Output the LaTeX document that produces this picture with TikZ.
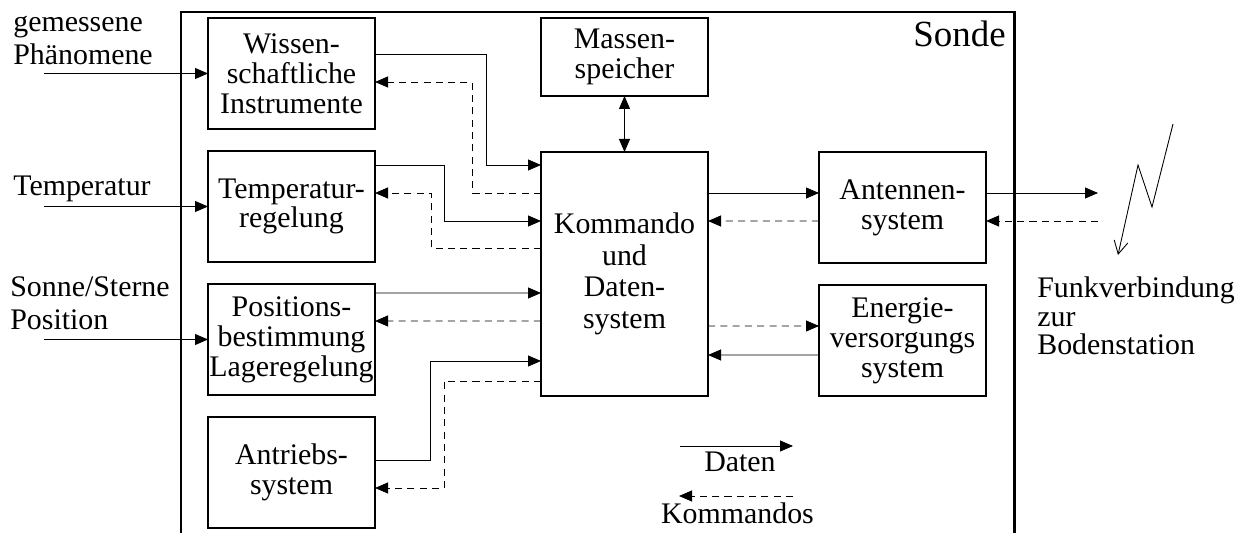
\documentclass[tikz,border=0pt]{standalone}
\usepackage{fontspec}
\setmainfont{Liberation Serif}
\usetikzlibrary{arrows.meta,positioning}

\begin{document}
\begin{tikzpicture}[
  node distance=0.44cm,
  font=\fontsize{17}{17}\selectfont,
  box/.style={draw, line width=0.6pt, minimum width=3.34cm,
              minimum height=2.22cm, inner sep=0pt, outer sep=0pt,
              align=center, font=\fontsize{17}{17}\selectfont},
  lab/.style={inner sep=0pt, align=left, font=\fontsize{17}{18.8}\selectfont},
  dat/.style={draw, line width=0.5pt, ->, >={Triangle[length=2.6mm,width=2.2mm]}},
  kmd/.style={dat, dash pattern=on 4pt off 3pt}
]
\useasboundingbox (0,0) rectangle (24.82,-10.66);

% Sonde
\draw[line width=1.7pt] (3.62,-10.66) |- (20.28,-0.24) -- (20.28,-10.66);
\node[anchor=base east, inner sep=0pt, font=\fontsize{21}{25}\selectfont]
  (sonde) at (20.12,-0.94) {Sonde};

\node[box] (wiss) at (5.83,-1.47) {Wissen-\\schaftliche\\Instrumente};
\node[box, below=of wiss] (temp) {Temperatur-\\regelung};
\node[box, below=of temp] (pos) {Positions-\\bestimmung\\Lageregelung};
\node[box, below=of pos] (antr) {Antriebs-\\system};
\node[box, minimum height=1.56cm, right=3.32cm of wiss.north east,
  anchor=north west] (mass) {Massen-\\speicher};
\node[box, minimum height=4.88cm, below=1.12cm of mass,
  font=\fontsize{17}{18}\selectfont] (komm) {Kommando\\und\\Daten-\\system};
\node[box, right=2.22cm of komm.north east, anchor=north west] (ant)
  {Antennen-\\system};
\node[box, below=of ant] (ener) {Energie-\\versorgungs\\system};

% aussen
\node[lab, anchor=base west] (gem) at (0.26,-1.30) {gemessene\\Phänomene};
\node[lab, anchor=base west] (tmp) at (0.26,-3.92) {Temperatur};
\node[lab, anchor=base west] (sun) at (0.2,-6.60) {Sonne/Sterne\\Position};
\node[lab, anchor=base west, font=\fontsize{17}{16.5}\selectfont] (funk)
  at (20.74,-7.10) {Funkverbindung\\zur\\Bodenstation};

\coordinate (inW) at (0.88,-1.47);
\coordinate (inT) at (0.88,-4.13);
\coordinate (inP) at (0.88,-6.79);
\coordinate (outA) at (21.96,-3.86);
\coordinate (inA) at (21.96,-4.42);

\draw[dat] (inW) -- (wiss.west);
\draw[dat] (inT) -- (temp.west);
\draw[dat] (inP) -- (pos.west);

\draw[dat] ([yshift=0.39cm]wiss.east) -- ++(2.22,0) |- ([yshift=2.18cm]komm.west);
\draw[kmd] ([yshift=1.62cm]komm.west) -- ++(-1.38,0) |- ([yshift=-0.17cm]wiss.east);
\draw[dat] ([yshift=0.83cm]temp.east) -- ++(1.38,0) |- ([yshift=1.06cm]komm.west);
\draw[kmd] ([yshift=0.52cm]komm.west) -- ++(-2.2,0) |- ([yshift=0.27cm]temp.east);
\draw[dat] ([yshift=0.93cm]pos.east) -- ([yshift=-0.38cm]komm.west);
\draw[kmd] ([yshift=-0.94cm]komm.west) -- ([yshift=0.37cm]pos.east);
\draw[dat] ([yshift=0.25cm]antr.east) -- ++(1.1,0) |- ([yshift=-1.74cm]komm.west);
\draw[kmd] ([yshift=-2.14cm]komm.west) -- ++(-1.94,0) |- ([yshift=-0.31cm]antr.east);

\draw[dat, <->] (mass.south) -- (komm.north);

\draw[dat] ([yshift=1.62cm]komm.east) -- ([yshift=0.29cm]ant.west);
\draw[kmd] ([yshift=-0.27cm]ant.west) -- ([yshift=1.06cm]komm.east);
\draw[kmd] ([yshift=-1.04cm]komm.east) -- ([yshift=0.29cm]ener.west);
\draw[dat] ([yshift=-0.29cm]ener.west) -- ([yshift=-1.62cm]komm.east);

\draw[dat] ([yshift=0.29cm]ant.east) -- (outA);
\draw[kmd] (inA) -- ([yshift=-0.27cm]ant.east);

% Funk
\coordinate (z1) at (23.46,-2.48);
\coordinate (z2) at (23.04,-4.14);
\coordinate (z3) at (22.76,-3.30);
\coordinate (z4) at (22.36,-5.10);
\draw[line width=0.5pt, -{Straight Barb[length=2.6mm,width=2.8mm]}]
  (z1) -- (z2) -- (z3) -- (z4);

% Legende
\coordinate (lgA) at (13.6,-8.92);
\coordinate (lgB) at (15.86,-8.92);
\coordinate (lgC) at (15.86,-9.92);
\coordinate (lgD) at (13.58,-9.92);
\draw[dat] (lgA) -- (lgB);
\draw[kmd] (lgC) -- (lgD);
\node[anchor=base, inner sep=0pt] (daten) at (14.8,-9.42) {Daten};
\node[anchor=base, inner sep=0pt] (kmds) at (14.75,-10.46) {Kommandos};
\end{tikzpicture}
\end{document}
